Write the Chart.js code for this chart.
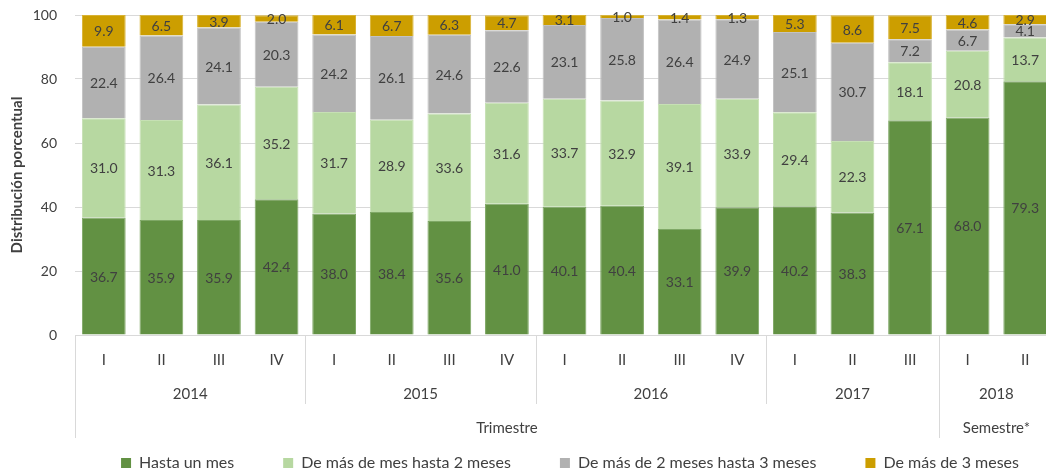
<!DOCTYPE html>
<html lang="es">
<head>
<meta charset="utf-8">
<title>Distribución porcentual</title>
<script src="https://cdn.jsdelivr.net/npm/chart.js@4.4.1/dist/chart.umd.min.js"></script>
<style>
  html, body { margin: 0; padding: 0; background: #fff; overflow: hidden; }
  #wrap { width: 1056px; height: 471px; }
</style>
</head>
<body>
<div id="wrap"><canvas id="grafico"></canvas></div>
<script>
// Datos
const periodos = ['I', 'II', 'III', 'IV', 'I', 'II', 'III', 'IV', 'I', 'II', 'III', 'IV', 'I', 'II', 'III', 'I', 'II'];
const anios = ['2014', '2014', '2014', '2014', '2015', '2015', '2015', '2015', '2016', '2016', '2016', '2016', '2017', '2017', '2017', '2018', '2018'];
const tipoPeriodo = ['Trimestre', 'Trimestre', 'Trimestre', 'Trimestre', 'Trimestre', 'Trimestre', 'Trimestre', 'Trimestre',
    'Trimestre', 'Trimestre', 'Trimestre', 'Trimestre', 'Trimestre', 'Trimestre', 'Trimestre', 'Semestre*', 'Semestre*'];

const hastaUnMes = [36.7, 35.9, 35.9, 42.4, 38.0, 38.4, 35.6, 41.0, 40.1, 40.4, 33.1, 39.9, 40.2, 38.3, 67.1, 68.0, 79.3];
const hasta2Meses = [31.0, 31.3, 36.1, 35.2, 31.7, 28.9, 33.6, 31.6, 33.7, 32.9, 39.1, 33.9, 29.4, 22.3, 18.1, 20.8, 13.7];
const hasta3Meses = [22.4, 26.4, 24.1, 20.3, 24.2, 26.1, 24.6, 22.6, 23.1, 25.8, 26.4, 24.9, 25.1, 30.7, 7.2, 6.7, 4.1];
const masDe3Meses = [9.9, 6.5, 3.9, 2.0, 6.1, 6.7, 6.3, 4.7, 3.1, 1.0, 1.4, 1.3, 5.3, 8.6, 7.5, 4.6, 2.9];

const yTicks = [0, 20, 40, 60, 80, 100];

const fuente = 'Lato, "Open Sans", sans-serif';
const gris = '#D9D9D9';
const texto = '#404040';

// agrupa valores consecutivos iguales -> [{label, desde, hasta}]
function grupos(arr) {
    const out = [];
    arr.forEach((v, i) => {
        if (out.length && out[out.length - 1].label === v) out[out.length - 1].hasta = i;
        else out.push({ label: v, desde: i, hasta: i });
    });
    return out;
}

// Etiquetas de valores, ejes de varios niveles y posición de la leyenda
const extras = {
    id: 'extras',
    afterLayout(chart) {
        const lg = chart.legend;
        const dx = 570 - (lg.left + lg.right) / 2;
        lg.left += dx; lg.right += dx;
        const dy = 463 - (lg.top + lg.options.labels.padding + 8);
        lg.top += dy; lg.bottom += dy;
    },
    afterDatasetsDraw(chart) {
        const ctx = chart.ctx;
        ctx.save();
        ctx.font = '14px ' + fuente;
        ctx.fillStyle = texto;
        ctx.textAlign = 'center';
        ctx.textBaseline = 'middle';
        chart.data.datasets.forEach((ds, i) => {
            chart.getDatasetMeta(i).data.forEach((bar, j) => {
                ctx.fillText(ds.data[j].toFixed(1), bar.x, (bar.y + bar.base) / 2 + 1);
            });
        });
        ctx.restore();
    },
    afterDraw(chart) {
        const ctx = chart.ctx;
        const x = chart.scales.x;
        const paso = x.getPixelForValue(1) - x.getPixelForValue(0);
        const borde = i => x.getPixelForValue(i) - paso / 2;
        const y0 = chart.chartArea.bottom;
        ctx.save();
        ctx.strokeStyle = gris;
        ctx.lineWidth = 1;
        ctx.fillStyle = texto;
        ctx.font = '15px ' + fuente;
        ctx.textAlign = 'center';
        ctx.textBaseline = 'middle';
        grupos(anios).forEach(g => {
            const xi = Math.round(borde(g.desde)) + 0.5;
            ctx.beginPath(); ctx.moveTo(xi, y0); ctx.lineTo(xi, y0 + 69); ctx.stroke();
            ctx.fillText(g.label, (x.getPixelForValue(g.desde) + x.getPixelForValue(g.hasta)) / 2, y0 + 59);
        });
        grupos(tipoPeriodo).forEach(g => {
            const xi = Math.round(borde(g.desde)) + 0.5;
            ctx.beginPath(); ctx.moveTo(xi, y0); ctx.lineTo(xi, y0 + 103); ctx.stroke();
            ctx.fillText(g.label, (x.getPixelForValue(g.desde) + x.getPixelForValue(g.hasta)) / 2, y0 + 93);
        });
        ctx.restore();
    }
};

const ctx = document.getElementById('grafico').getContext('2d');
const grafico = new Chart(ctx, {
    type: 'bar',
    data: {
        labels: periodos,
        datasets: [
            { label: 'Hasta un mes', data: hastaUnMes, backgroundColor: '#629143', borderColor: '#7FA866' },
            { label: 'De más de mes hasta 2 meses', data: hasta2Meses, backgroundColor: '#B7D8A1', borderColor: '#C6E0B4' },
            { label: 'De más de 2 meses hasta 3 meses', data: hasta3Meses, backgroundColor: '#B1B1B1', borderColor: '#C2C2C2' },
            { label: 'De más de 3 meses', data: masDe3Meses, backgroundColor: '#CC9E00', borderColor: '#D8B233' },
        ],
    },
    options: {
        responsive: true,
        maintainAspectRatio: false,
        animation: false,
        datasets: { bar: { categoryPercentage: 0.76, barPercentage: 1, borderWidth: 1 } },
        layout: { padding: { top: 15, left: 0, right: 2, bottom: 0 } },
        plugins: {
            legend: {
                position: 'bottom',
                labels: {
                    boxWidth: 10, boxHeight: 10, padding: 49,
                    color: texto, font: { family: fuente, size: 16 },
                    useBorderRadius: false,
                    generateLabels(chart) {
                        return chart.data.datasets.map((ds, i) => ({
                            text: ds.label, fillStyle: ds.backgroundColor, strokeStyle: ds.backgroundColor,
                            lineWidth: 0, datasetIndex: i, fontColor: texto,
                        }));
                    },
                },
            },
            tooltip: { enabled: false },
        },
        scales: {
            x: {
                stacked: true,
                grid: { display: false, drawTicks: false },
                border: { display: true, color: gris },
                ticks: { color: texto, font: { family: fuente, size: 15 }, padding: 16, maxRotation: 0, autoSkip: false },
                afterFit(scale) { scale.height = 61; },
            },
            y: {
                stacked: true,
                min: 0, max: 100,
                afterBuildTicks(scale) { scale.ticks = yTicks.map(v => ({ value: v })); },
                grid: { color: gris, drawTicks: false },
                border: { display: false },
                ticks: { color: texto, font: { family: fuente, size: 14 }, padding: 18 },
                title: {
                    display: true, text: 'Distribución porcentual', color: texto,
                    font: { family: fuente, size: 15, weight: 'bold' }, padding: { top: 8, bottom: 0 },
                },
                afterFit(scale) {
                    scale.width = 75;
                    scale.paddingTop = 8;
                    scale.paddingBottom = 8;
                },
            },
        },
    },
    plugins: [extras],
});
</script>
</body>
</html>
